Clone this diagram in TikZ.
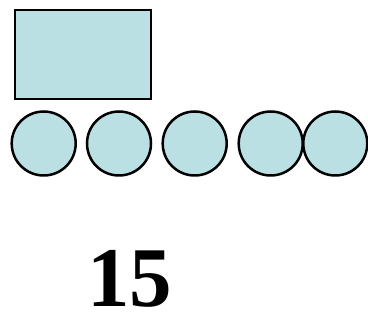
\documentclass[tikz,border=0pt]{standalone}
\usepackage{fontspec}
\setmainfont{Liberation Serif}
\definecolor{fillblue}{RGB}{187,224,227}
\begin{document}
\begin{tikzpicture}[x=1pt,y=-1pt,
  shapestyle/.style={draw=black,line width=2.5pt,fill=fillblue},
  ball/.style={shapestyle,circle,minimum size=64pt,inner sep=0pt}]
\useasboundingbox (0,0) rectangle (368,320);
\node[shapestyle,rectangle,minimum width=136pt,minimum height=89pt,inner sep=0pt] (box) at (83,54.5) {};
\node[ball] (c1) at (43.7,143.5) {};
\node[ball] (c2) at (119,143.5) {};
\node[ball] (c3) at (194.7,143.5) {};
\node[ball] (c4) at (270.7,143.5) {};
\node[ball] (c5) at (335.3,143.5) {};
\node[font=\fontsize{85}{85}\selectfont\bfseries,inner sep=0pt,text depth=0pt,anchor=base] (num) at (130,306.7) {15};
\end{tikzpicture}
\end{document}
